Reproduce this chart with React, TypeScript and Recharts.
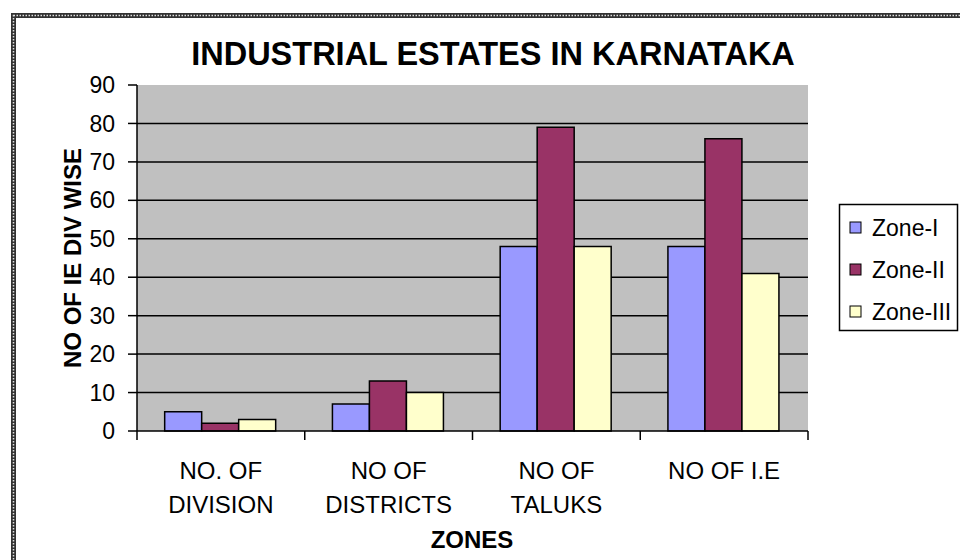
import React from 'react';
import { BarChart, Bar, XAxis, YAxis, CartesianGrid } from 'recharts';

const categories = ['NO. OF\nDIVISION', 'NO OF\nDISTRICTS', 'NO OF\nTALUKS', 'NO OF I.E'];
const zone1 = [5, 7, 48, 48];
const zone2 = [2, 13, 79, 76];
const zone3 = [3, 10, 48, 41];
const yTicks = [0, 10, 20, 30, 40, 50, 60, 70, 80, 90];

const series = [
  { key: 'z1', name: 'Zone-I', color: '#9999FF', values: zone1 },
  { key: 'z2', name: 'Zone-II', color: '#993366', values: zone2 },
  { key: 'z3', name: 'Zone-III', color: '#FFFFCC', values: zone3 },
];

const data = categories.map((c, i) => {
  const row: any = { cat: c };
  series.forEach((s) => (row[s.key] = s.values[i]));
  return row;
});

const FONT = "Arial, 'Liberation Sans', Helvetica, sans-serif";

// category label + tick marks on the band boundaries (Excel style)
const CatTick = (props: any) => {
  const { x, y, payload, index } = props;
  const half = payload && payload.offset ? payload.offset : 83.875;
  const lines = String(payload.value).split('\n');
  const last = index === categories.length - 1;
  return (
    <g>
      <line x1={x - half} x2={x - half} y1={y} y2={y + 9} stroke="#000" strokeWidth={1.5} />
      {last && <line x1={x + half} x2={x + half} y1={y} y2={y + 9} stroke="#000" strokeWidth={1.5} />}
      {lines.map((ln, i) => (
        <text key={i} x={x} y={y + 48 + i * 34} textAnchor="middle" fontSize={24} fontFamily={FONT} fill="#000">
          {ln}
        </text>
      ))}
    </g>
  );
};

const App: React.FC = () => {
  return (
    <div style={{ position: 'absolute', left: 0, top: 0, width: 960, height: 560, background: '#fff', overflow: 'hidden' }}>
      <BarChart
        width={960}
        height={560}
        data={data}
        margin={{ top: 85, right: 152, left: 0, bottom: 0 }}
        barCategoryGap="16.5%"
        barGap={0}
      >
        <CartesianGrid
          vertical={false}
          fill="#C0C0C0"
          fillOpacity={1}
          stroke="#000"
          strokeWidth={1.5}
          horizontalValues={[10, 20, 30, 40, 50, 60, 70, 80]}
          yAxisId="l"
          xAxisId="cat"
        />
        <XAxis
          xAxisId="cat"
          dataKey="cat"
          height={129}
          tickLine={false}
          axisLine={{ stroke: '#000', strokeWidth: 1.5 }}
          tickSize={0}
          tickMargin={0}
          interval={0}
          tick={<CatTick />}
        />
        <XAxis
          xAxisId="top"
          orientation="top"
          dataKey="cat"
          height={0}
          tick={false}
          tickLine={false}
          axisLine={{ stroke: '#808080', strokeWidth: 2.5 }}
        />
        <YAxis
          yAxisId="l"
          width={137}
          domain={[0, 90]}
          ticks={yTicks}
          interval={0}
          tickSize={9}
          tickMargin={13}
          axisLine={{ stroke: '#000', strokeWidth: 1.5 }}
          tickLine={{ stroke: '#000', strokeWidth: 1.5 }}
          tick={{ fontSize: 23, fontFamily: FONT, fill: '#000' }}
        />
        <YAxis
          yAxisId="r"
          orientation="right"
          width={0}
          domain={[0, 90]}
          tick={false}
          tickLine={false}
          axisLine={{ stroke: '#808080', strokeWidth: 2.5 }}
        />
        {series.map((s) => (
          <Bar
            key={s.key}
            dataKey={s.key}
            name={s.name}
            xAxisId="cat"
            yAxisId="l"
            fill={s.color}
            stroke="#000"
            strokeWidth={1.5}
            isAnimationActive={false}
          />
        ))}
      </BarChart>
      <svg width={960} height={560} style={{ position: 'absolute', left: 0, top: 0, pointerEvents: 'none' }}>
        <rect x={13.5} y={15.5} width={1000} height={1000} fill="none" stroke="#333" strokeWidth={5} />
        <rect x={13.5} y={15.5} width={1000} height={1000} fill="none" stroke="#e0e0e0" strokeWidth={1.5} strokeDasharray="1.5 1.5" />
        <text x={493} y={65} textAnchor="middle" fontSize={32.5} fontWeight="bold" fontFamily={FONT} fill="#000">
          INDUSTRIAL ESTATES IN KARNATAKA
        </text>
        <text
          x={81}
          y={258}
          transform="rotate(-90 81 258)"
          textAnchor="middle"
          fontSize={24}
          fontWeight="bold"
          fontFamily={FONT}
          fill="#000"
        >
          NO OF IE DIV WISE
        </text>
        <text x={472} y={548} textAnchor="middle" fontSize={24} fontWeight="bold" fontFamily={FONT} fill="#000">
          ZONES
        </text>
        <rect x={839.5} y={204.5} width={118} height={126} fill="#fff" stroke="#000" strokeWidth={1.5} />
        {series.map((s, i) => (
          <g key={s.key}>
            <rect x={850} y={222 + i * 42} width={11} height={11} fill={s.color} stroke="#000" strokeWidth={1} />
            <text x={872} y={236 + i * 42} fontSize={23} fontFamily={FONT} fill="#000">
              {s.name}
            </text>
          </g>
        ))}
      </svg>
    </div>
  );
};

export default App;
